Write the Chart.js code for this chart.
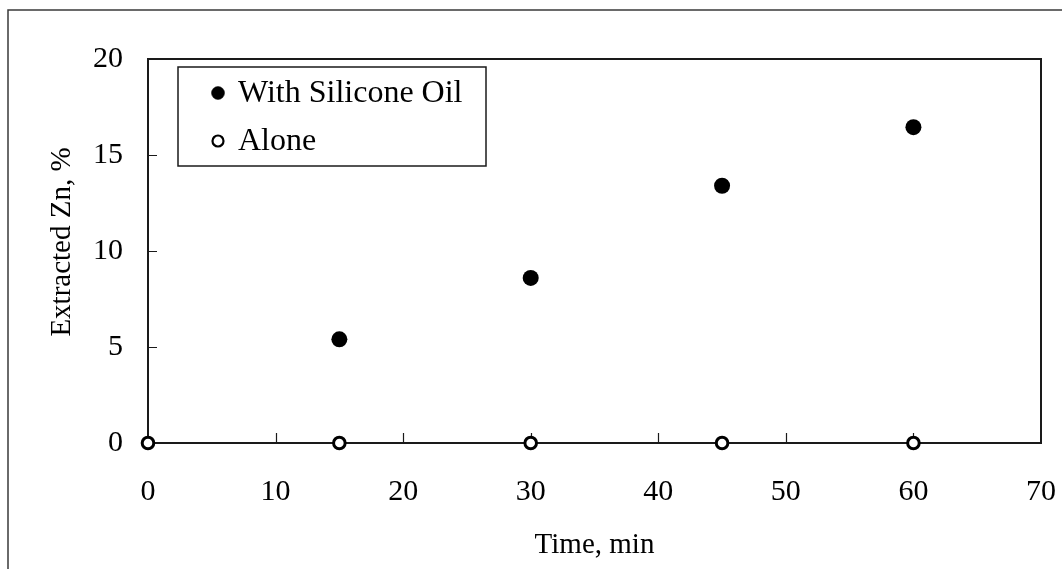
<!DOCTYPE html>
<html>
<head>
<meta charset="utf-8">
<script src="https://cdn.jsdelivr.net/npm/chart.js@4/dist/chart.umd.min.js"></script>
<style>
  html, body { margin: 0; padding: 0; background: #fff; }
  #wrap { width: 1062px; height: 569px; }
</style>
</head>
<body>
<div id="wrap"><canvas id="c" width="1062" height="569"></canvas></div>
<script>
// Extraction of Zn over time
const times = [0, 15, 30, 45, 60];
const withSiliconeOil = [null, 5.4, 8.6, 13.4, 16.45];
const alone = [0, 0, 0, 0, 0];
const seriesLabels = ['With Silicone Oil', 'Alone'];
const xTickValues = [0, 10, 20, 30, 40, 50, 60, 70];
const yTickValues = [0, 5, 10, 15, 20];
const xTitle = 'Time, min';
const yTitle = 'Extracted Zn, %';

const toPoints = vals => times
  .map((t, i) => ({ x: t, y: vals[i] }))
  .filter(p => p.y !== null);

const FONT = 'Liberation Serif';
Chart.defaults.font.family = FONT;
Chart.defaults.color = '#000';

// frame around the plot, inner tick marks, outer border and the y title
const framePlugin = {
  id: 'frame',
  beforeDraw(chart) {
    const ctx = chart.ctx;
    ctx.save();
    ctx.strokeStyle = '#3a3a3a';
    ctx.lineWidth = 1.5;
    ctx.beginPath();
    ctx.moveTo(8, chart.height);
    ctx.lineTo(8, 10);
    ctx.lineTo(chart.width, 10);
    ctx.stroke();

    // y axis title, rotated, a little above the plot's middle
    const a = chart.chartArea;
    ctx.translate(62, (a.top + a.bottom) / 2 - 9);
    ctx.rotate(-Math.PI / 2);
    ctx.font = '29px "' + FONT + '"';
    ctx.fillStyle = '#000';
    ctx.textAlign = 'center';
    ctx.textBaseline = 'middle';
    ctx.fillText(yTitle, 0, 0);
    ctx.restore();
  },
  beforeDatasetsDraw(chart) {
    const { ctx, chartArea: a, scales: { x, y } } = chart;
    ctx.save();
    ctx.strokeStyle = '#1a1a1a';
    ctx.lineWidth = 2;
    ctx.strokeRect(a.left, a.top, a.right - a.left, a.bottom - a.top);
    ctx.lineWidth = 1.2;
    ctx.beginPath();
    x.ticks.forEach(t => {
      if (t.value <= x.min || t.value >= x.max) return;
      const px = Math.round(x.getPixelForValue(t.value)) + 0.5;
      ctx.moveTo(px, a.bottom);
      ctx.lineTo(px, a.bottom - 10);
    });
    y.ticks.forEach(t => {
      if (t.value <= y.min || t.value >= y.max) return;
      const py = Math.round(y.getPixelForValue(t.value)) + 0.5;
      ctx.moveTo(a.left, py);
      ctx.lineTo(a.left + 9, py);
    });
    ctx.stroke();
    ctx.restore();
  }
};

// boxed legend inside the plot area
const legendBoxPlugin = {
  id: 'legendBox',
  afterDatasetsDraw(chart) {
    const { ctx, chartArea: a } = chart;
    const bx = a.left + 30, by = a.top + 8, bw = 308, bh = 99;
    ctx.save();
    ctx.fillStyle = '#fff';
    ctx.fillRect(bx, by, bw, bh);
    ctx.strokeStyle = '#1a1a1a';
    ctx.lineWidth = 1.5;
    ctx.strokeRect(bx, by, bw, bh);
    ctx.font = '32px "' + FONT + '"';
    ctx.textBaseline = 'middle';
    chart.data.datasets.forEach((ds, i) => {
      const cy = by + 26 + i * 48;
      const cx = bx + 40;
      ctx.beginPath();
      ctx.arc(cx, cy, ds.legendRadius, 0, Math.PI * 2);
      ctx.fillStyle = ds.backgroundColor;
      ctx.fill();
      ctx.lineWidth = ds.legendBorder;
      ctx.strokeStyle = ds.borderColor;
      ctx.stroke();
      ctx.fillStyle = '#000';
      ctx.fillText(ds.label, cx + 20, cy + 1);
    });
    ctx.restore();
  }
};

new Chart(document.getElementById('c'), {
  type: 'scatter',
  data: {
    datasets: [
      {
        label: seriesLabels[0],
        data: toPoints(withSiliconeOil),
        backgroundColor: '#000',
        borderColor: '#000',
        pointRadius: 8,
        pointBorderWidth: 0,
        legendRadius: 6.5,
        legendBorder: 0.5,
        clip: false
      },
      {
        label: seriesLabels[1],
        data: toPoints(alone),
        backgroundColor: '#fff',
        borderColor: '#000',
        pointRadius: 5.8,
        pointBorderWidth: 3,
        legendRadius: 5.5,
        legendBorder: 2.2,
        clip: false
      }
    ]
  },
  options: {
    responsive: false,
    animation: false,
    devicePixelRatio: 1,
    events: [],
    layout: { padding: { top: 59, right: 21, left: 0, bottom: 0 } },
    plugins: {
      legend: { display: false },
      tooltip: { enabled: false }
    },
    scales: {
      x: {
        type: 'linear',
        min: 0,
        max: 70,
        afterBuildTicks: s => { s.ticks = xTickValues.map(v => ({ value: v })); },
        grid: { display: false, drawTicks: false },
        border: { display: false },
        ticks: { font: { size: 30 }, padding: 31, maxRotation: 0 },
        title: { display: true, text: xTitle, font: { size: 29 }, padding: { top: 0, bottom: 6 } },
        afterFit: s => {
          s.height = 126;
          s.paddingLeft = 0; s.paddingRight = 0; s.paddingTop = 0; s.paddingBottom = 0;
        }
      },
      y: {
        type: 'linear',
        min: 0,
        max: 20,
        afterBuildTicks: s => { s.ticks = yTickValues.map(v => ({ value: v })); },
        grid: { display: false, drawTicks: false },
        border: { display: false },
        ticks: { font: { size: 30 }, padding: 25 },
        title: { display: false },
        afterFit: s => {
          s.width = 148;
          s.paddingLeft = 0; s.paddingRight = 0; s.paddingTop = 0; s.paddingBottom = 0;
        }
      }
    }
  },
  plugins: [framePlugin, legendBoxPlugin]
});
</script>
</body>
</html>
